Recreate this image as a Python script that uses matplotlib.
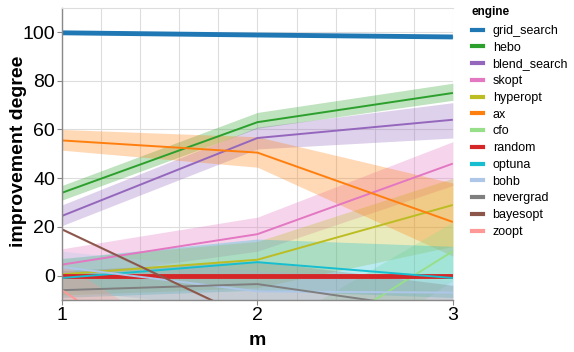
import matplotlib
matplotlib.use("Agg")
import matplotlib.pyplot as plt
from matplotlib.ticker import MultipleLocator
from matplotlib.lines import Line2D

plt.rcParams['font.family'] = ['Liberation Sans', 'DejaVu Sans']

m = [1, 2, 3]
engines = ["grid_search", "hebo", "blend_search", "skopt", "hyperopt", "ax", "cfo",
           "random", "optuna", "bohb", "nevergrad", "bayesopt", "zoopt"]
colors = ["#1f77b4", "#2ca02c", "#9467bd", "#e377c2", "#bcbd22", "#ff7f0e", "#98df8a",
          "#d62728", "#17becf", "#aec7e8", "#7f7f7f", "#8c564b", "#ff9896"]

mean = {
    "grid_search": [99.7, 98.8, 98.0],
    "hebo": [34.0, 63.0, 75.0],
    "blend_search": [24.5, 56.5, 64.0],
    "skopt": [4.5, 17.0, 46.0],
    "hyperopt": [0.5, 6.5, 29.0],
    "ax": [55.5, 50.5, 22.0],
    "cfo": [-40.0, -40.0, 10.0],
    "random": [0.0, 0.0, 0.0],
    "optuna": [-1.0, 5.5, -1.0],
    "bohb": [3.5, -6.5, -7.0],
    "nevergrad": [-6.0, -3.5, -15.0],
    "bayesopt": [19.0, -19.0, -30.0],
    "zoopt": [-6.0, -60.0, -80.0],
}
lower = {
    "grid_search": [99.2, 98.3, 97.5],
    "hebo": [31.0, 60.5, 72.0],
    "blend_search": [20.5, 52.0, 56.5],
    "skopt": [-1.0, 10.0, 37.0],
    "hyperopt": [-8.0, -5.0, 12.0],
    "ax": [51.5, 44.5, 8.0],
    "cfo": [-55.0, -55.0, -2.0],
    "random": [-0.3, -0.3, -0.3],
    "optuna": [-9.0, -6.0, -9.0],
    "bohb": [-6.0, -14.0, -14.0],
    "nevergrad": [-14.0, -12.0, -30.0],
    "bayesopt": [18.5, -19.5, -30.5],
    "zoopt": [-20.0, -80.0, -100.0],
}
upper = {
    "grid_search": [100.2, 99.3, 98.5],
    "hebo": [37.0, 67.0, 79.0],
    "blend_search": [29.0, 61.0, 71.0],
    "skopt": [11.0, 24.0, 55.0],
    "hyperopt": [7.0, 14.0, 40.0],
    "ax": [60.0, 57.0, 38.0],
    "cfo": [-25.0, -25.0, 22.0],
    "random": [0.3, 0.3, 0.3],
    "optuna": [7.0, 15.0, 12.0],
    "bohb": [10.0, 2.0, -2.0],
    "nevergrad": [2.0, 6.0, -4.0],
    "bayesopt": [19.5, -18.5, -29.5],
    "zoopt": [5.0, -45.0, -60.0],
}
thick = {"grid_search", "random"}

fig = plt.figure(figsize=(5.74, 3.52), dpi=100)
ax = fig.add_axes([0.108, 0.148, 0.681, 0.830])

for e, c in zip(engines, colors):
    ax.fill_between(m, lower[e], upper[e], color=c, alpha=0.3, linewidth=0)
for e, c in zip(engines, colors):
    ax.plot(m, mean[e], color=c, lw=3.5 if e in thick else 1.4,
            solid_capstyle='butt', solid_joinstyle='round')

ax.set_xlim(1, 3)
ax.set_ylim(-10, 110)
ax.xaxis.set_major_locator(MultipleLocator(1))
ax.xaxis.set_minor_locator(MultipleLocator(0.2))
ax.yaxis.set_major_locator(MultipleLocator(20))
ax.grid(True, which='both', color='#dddddd', lw=0.8)
ax.set_axisbelow(True)
ax.tick_params(which='minor', length=0)
ax.tick_params(which='major', length=3.6, color='#888888', labelsize=14, pad=1.5)
ax.spines['right'].set_visible(False)
ax.spines['top'].set_color('#dddddd')
ax.spines['top'].set_linewidth(0.8)
for s in ['left', 'bottom']:
    ax.spines[s].set_color('#888888')
    ax.spines[s].set_linewidth(1)
ax.set_xlabel("m", fontsize=14, fontweight='bold')
ax.set_ylabel("improvement degree", fontsize=14, fontweight='bold')
ax.yaxis.set_label_coords(-0.11, 0.51)
ax.xaxis.set_label_coords(0.5, -0.138)
ax.xaxis.label.set_va('center')
ax.yaxis.label.set_va('center')

handles = [Line2D([], [], color=c, lw=3) for c in colors]
fig.text(471 / 574, 1 - 12 / 352, "engine", fontsize=8.5, fontweight='bold',
         ha='left', va='center')
leg = fig.legend(handles, engines, loc='upper left',
                 bbox_to_anchor=(472 / 574, 1 - 25 / 352), frameon=False, fontsize=9,
                 handlelength=0.9, handletextpad=0.75, labelspacing=0.38,
                 borderaxespad=0, borderpad=0)

fig.savefig("out.png", dpi=100)
